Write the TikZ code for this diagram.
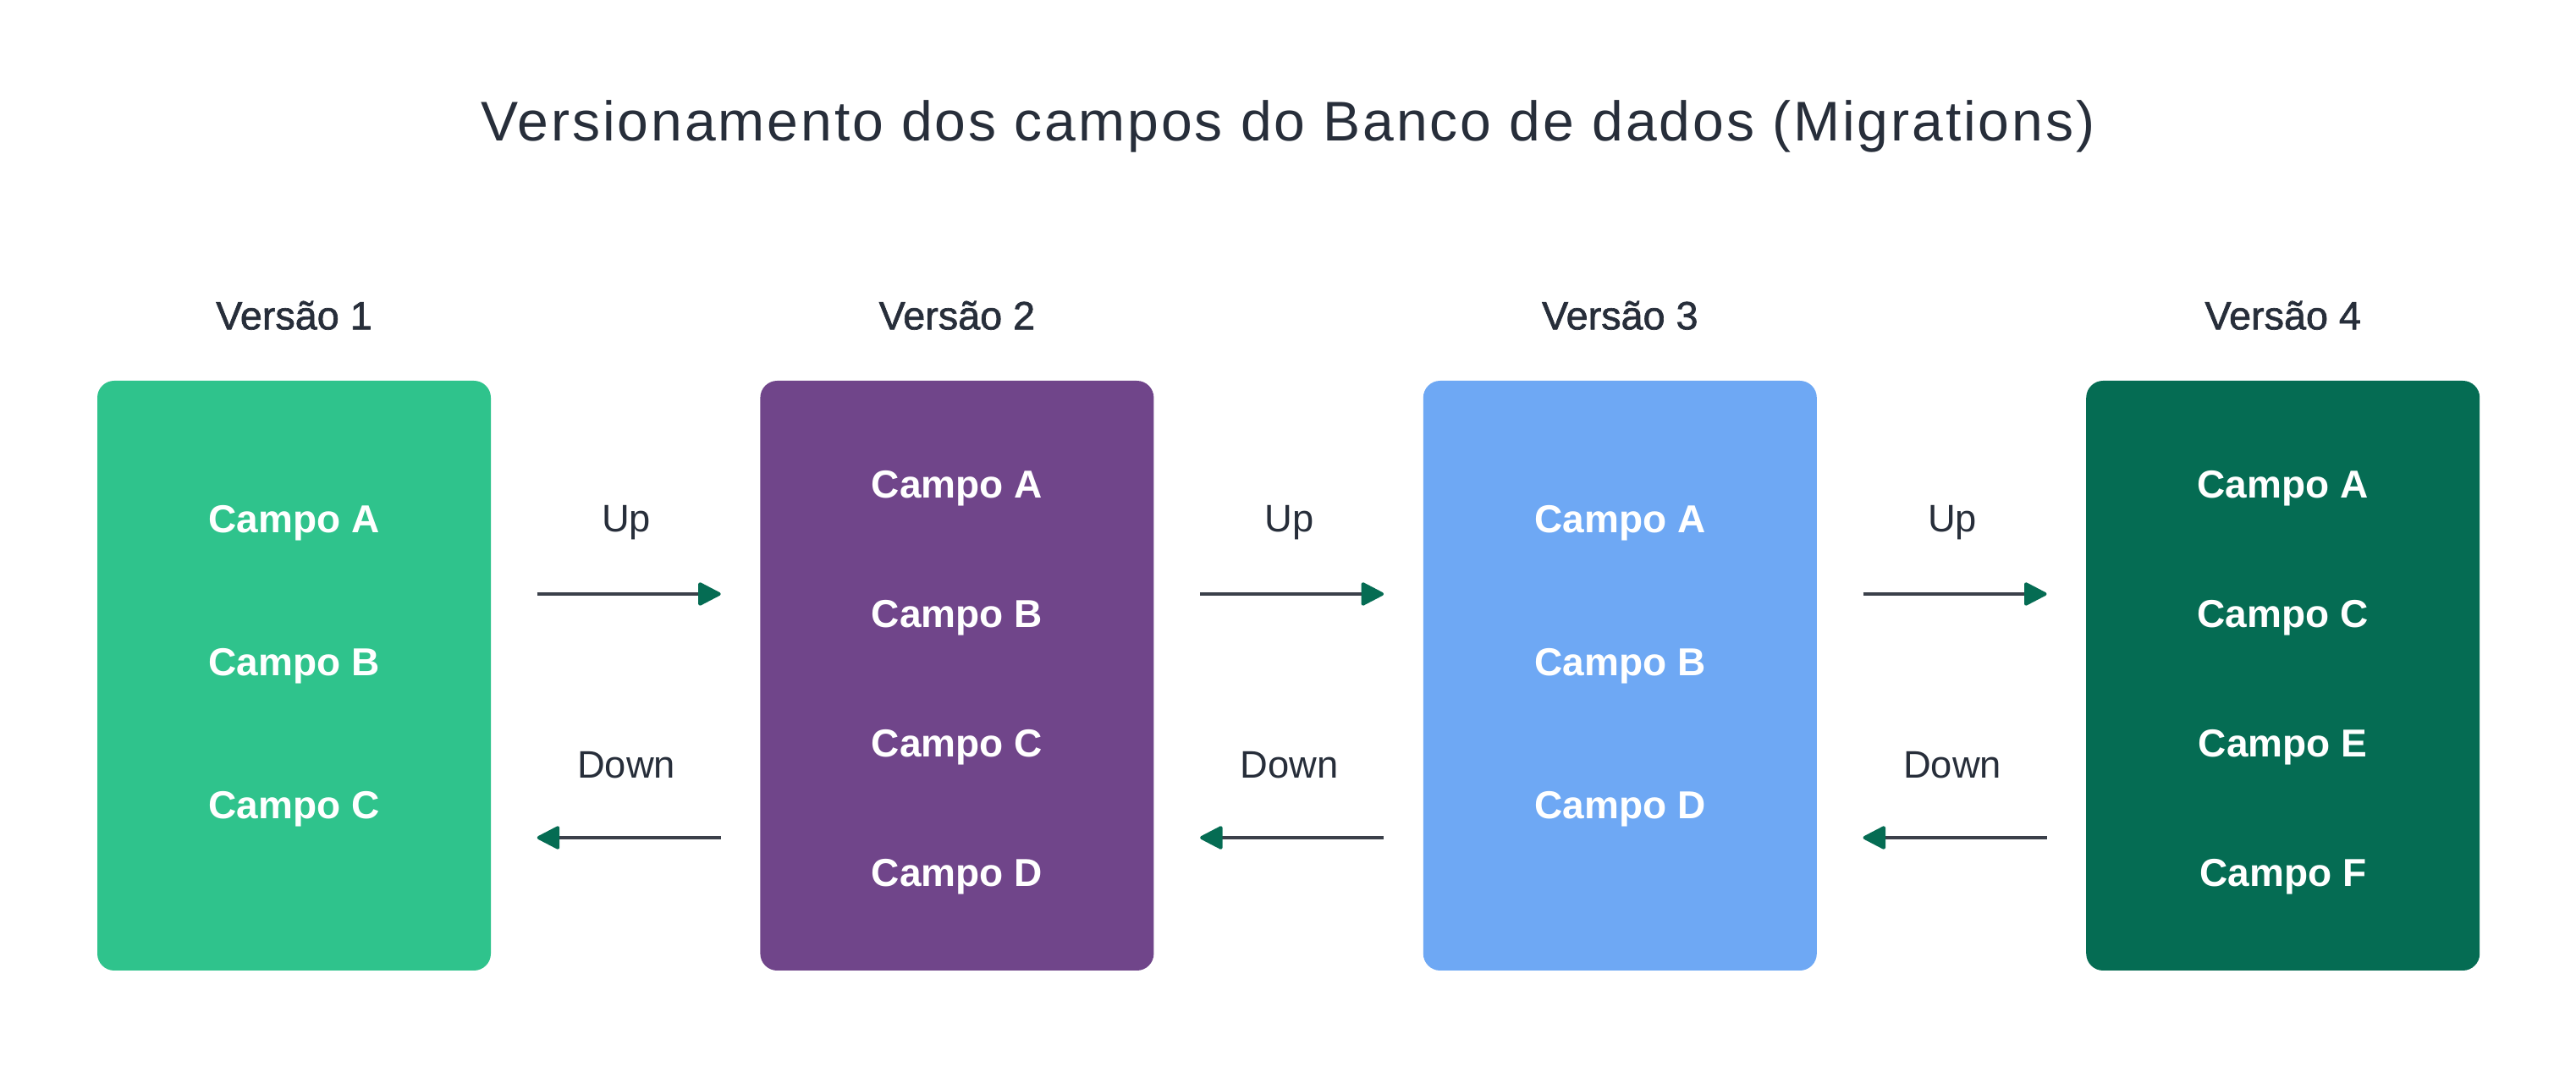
\documentclass[tikz,border=0pt]{standalone}
\usepackage{fontspec}
\setmainfont{Liberation Sans}
\newfontfamily\cabecalhofont[FakeBold=1.4]{Liberation Sans}
\newfontfamily\titulofont[LetterSpace=4.4]{Liberation Sans}
\usetikzlibrary{arrows.meta, positioning}

\definecolor{verdeclaro}{HTML}{2FC38C}
\definecolor{roxo}{HTML}{70458A}
\definecolor{azul}{HTML}{6EA8F4}
\definecolor{verdeescuro}{HTML}{056C53}
\definecolor{texto}{HTML}{272E3A}
\definecolor{linha}{HTML}{3B404A}

\tikzset{
  versao/.style={rounded corners=2mm, minimum width=4.65cm, minimum height=6.97cm, inner sep=0pt},
  campo/.style={text=white, anchor=base, font=\bfseries\fontsize{13.1}{15}\selectfont},
  cabecalho/.style={text=texto, anchor=base, font=\cabecalhofont\fontsize{13.3}{15}\selectfont},
  rotulo/.style={text=texto, anchor=base, font=\fontsize{12.9}{15}\selectfont},
  seta/.style={draw=linha, line width=0.04cm, -{Triangle[length=2.9mm, width=2.9mm, round, color=verdeescuro]}},
}

\begin{document}
\begin{tikzpicture}
  \path[use as bounding box, fill=white] (0,0) rectangle (30.44,12.61);

  % Title
  \node[anchor=base, text=texto, font=\titulofont\fontsize{18.8}{22}\selectfont] (titulo) at (15.22,10.94)
    {Versionamento dos campos do Banco de dados (Migrations)};

  % Versions
  \node[versao, fill=verdeclaro] (v1) at (3.475,4.625) {};
  \node[versao, fill=roxo, right=3.17cm of v1] (v2) {};
  \node[versao, fill=azul, right=3.17cm of v2] (v3) {};
  \node[versao, fill=verdeescuro, right=3.17cm of v3] (v4) {};

  \foreach \v in {1,2,3,4}
    \node[cabecalho] (t\v) at ([yshift=6mm]v\v.north) {Versão \v};

  % Fields
  \foreach \c [count=\k] in {A,B,C}
    \node[campo] (v1c\k) at ([yshift={(2-\k)*1.69cm}]v1.center) {Campo \c};
  \foreach \c [count=\k] in {A,B,C,D}
    \node[campo] (v2c\k) at ([yshift={(0.565+(2-\k)*1.53)*1cm}]v2.center) {Campo \c};
  \foreach \c [count=\k] in {A,B,D}
    \node[campo] (v3c\k) at ([yshift={(2-\k)*1.69cm}]v3.center) {Campo \c};
  \foreach \c [count=\k] in {A,C,E,F}
    \node[campo] (v4c\k) at ([yshift={(0.565+(2-\k)*1.53)*1cm}]v4.center) {Campo \c};

  % Up and down migrations
  \foreach \a/\b in {v1/v2, v2/v3, v3/v4} {
    \draw[seta] ([xshift=5.4mm, yshift=9.65mm]\a.east) -- ([xshift=-4.6mm, yshift=9.65mm]\b.west)
      node[rotulo, midway, xshift=-0.3mm, yshift=7.3mm] {Up};
    \draw[seta] ([xshift=-4.6mm, yshift=-19.15mm]\b.west) -- ([xshift=5.4mm, yshift=-19.15mm]\a.east)
      node[rotulo, midway, xshift=-0.3mm, yshift=7mm] {Down};
  }
\end{tikzpicture}
\end{document}
